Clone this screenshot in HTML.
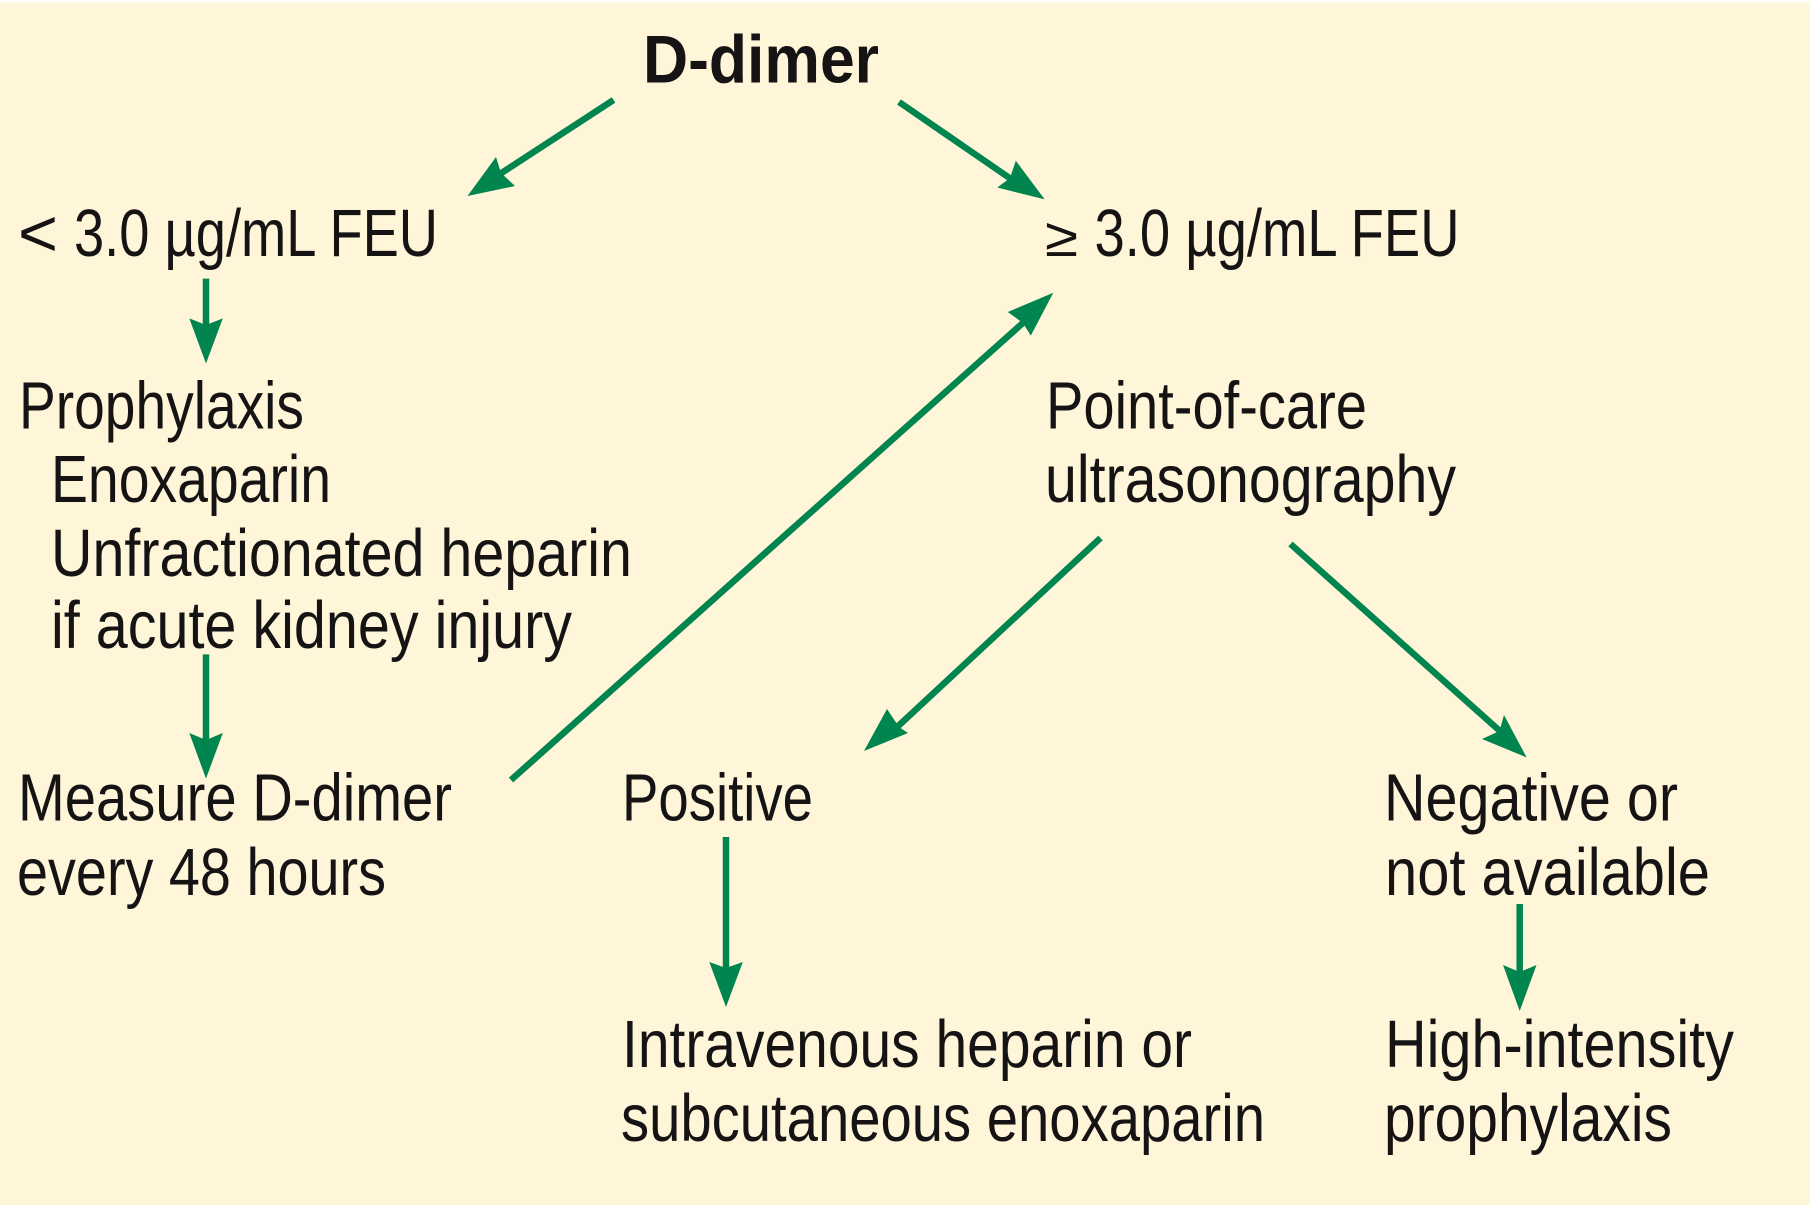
<!DOCTYPE html>
<html><head><meta charset="utf-8"><title>D-dimer algorithm</title>
<style>
html,body{margin:0;padding:0;background:#fff5d8}
svg{display:block}
text{font-family:"Liberation Sans",sans-serif;font-size:67px;fill:#151314}
.b{font-weight:bold;font-size:68px}
line{stroke:#00854f;stroke-width:6.5}
polygon{fill:#00854f}
</style></head><body>
<svg width="1810" height="1205" viewBox="0 0 1810 1205" xmlns="http://www.w3.org/2000/svg">
<rect width="1810" height="1205" fill="#fff5d8"/>
<rect width="1810" height="3" fill="#fdfcf7"/>

<text class="b" x="643" y="82.7" textLength="236" lengthAdjust="spacingAndGlyphs">D-dimer</text>
<text y="256"><tspan x="18" textLength="40" lengthAdjust="spacingAndGlyphs">&lt;</tspan> <tspan x="74" textLength="364" lengthAdjust="spacingAndGlyphs">3.0 µg/mL FEU</tspan></text>
<text y="256"><tspan x="1045" textLength="33" lengthAdjust="spacingAndGlyphs" style="font-size:55px">≥</tspan> <tspan x="1094.5" textLength="365" lengthAdjust="spacingAndGlyphs">3.0 µg/mL FEU</tspan></text>
<text x="19" y="428.6" textLength="285" lengthAdjust="spacingAndGlyphs">Prophylaxis</text>
<text x="51" y="502" textLength="280" lengthAdjust="spacingAndGlyphs">Enoxaparin</text>
<text x="51" y="576" textLength="581" lengthAdjust="spacingAndGlyphs">Unfractionated heparin</text>
<text x="51" y="648" textLength="521" lengthAdjust="spacingAndGlyphs">if acute kidney injury</text>
<text x="18" y="820.7" textLength="434" lengthAdjust="spacingAndGlyphs">Measure D-dimer</text>
<text x="17" y="895" textLength="369" lengthAdjust="spacingAndGlyphs">every 48 hours</text>
<text x="622" y="820.7" textLength="191" lengthAdjust="spacingAndGlyphs">Positive</text>
<text x="622" y="1067" textLength="570" lengthAdjust="spacingAndGlyphs">Intravenous heparin or</text>
<text x="621" y="1141" textLength="644" lengthAdjust="spacingAndGlyphs">subcutaneous enoxaparin</text>
<text x="1046" y="428.6" textLength="321" lengthAdjust="spacingAndGlyphs">Point-of-care</text>
<text x="1045" y="502" textLength="411" lengthAdjust="spacingAndGlyphs">ultrasonography</text>
<text x="1384" y="820.7" textLength="294" lengthAdjust="spacingAndGlyphs">Negative or</text>
<text x="1385" y="895" textLength="325" lengthAdjust="spacingAndGlyphs">not available</text>
<text x="1385" y="1067" textLength="349" lengthAdjust="spacingAndGlyphs">High-intensity</text>
<text x="1384" y="1141" textLength="288" lengthAdjust="spacingAndGlyphs">prophylaxis</text>

<line x1="613.5" y1="100" x2="500" y2="174"/>
<polygon points="467.5,196 496,157 501,173 515,186"/>
<line x1="899" y1="102" x2="1011" y2="179"/>
<polygon points="1044.7,199.4 1015.8,160.7 1010,178 997.3,187.5"/>
<line x1="206" y1="278.6" x2="206" y2="328"/>
<polygon points="206,363.5 189.3,318.4 206,325 222.8,318.4"/>
<line x1="206" y1="654.4" x2="206" y2="740"/>
<polygon points="206,778.6 189.3,733 206,740 222.8,733"/>
<line x1="511" y1="780" x2="1024" y2="322"/>
<polygon points="1053.3,292.8 1007.7,312 1023,323 1030.8,335.6"/>
<line x1="1100.5" y1="538" x2="895" y2="729"/>
<polygon points="864,751 887,709 899,727 908,733"/>
<line x1="1290.5" y1="544" x2="1501" y2="732"/>
<polygon points="1526.6,757.4 1504,715 1499.5,731 1482,739"/>
<line x1="726" y1="837" x2="726" y2="968"/>
<polygon points="726,1007 709.3,962 726,968 742.8,962"/>
<line x1="1519.7" y1="904" x2="1519.7" y2="972"/>
<polygon points="1519.7,1011 1503,965 1519.7,972 1536.5,965"/>
</svg>
</body></html>
